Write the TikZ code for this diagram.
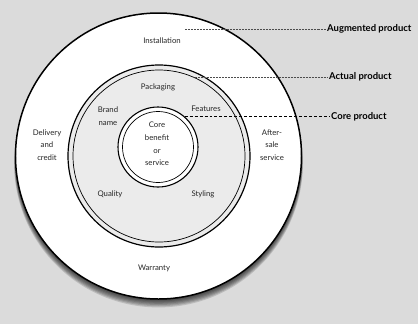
\documentclass[tikz,border=0pt]{standalone}
\usepackage{fontspec}
\setmainfont{Lato}
\usetikzlibrary{positioning}

\begin{document}
\begin{tikzpicture}[x=1bp, y=-1bp,
  ring/.style={circle, draw, inner sep=0pt},
  lbl/.style={font=\fontsize{7.8}{12.7}\selectfont, align=center, inner sep=1pt, text=black!85},
  level/.style={font=\bfseries\fontsize{9.5}{11}\selectfont, anchor=west, inner sep=1pt},
  leader/.style={densely dotted, black!70, line width=0.5pt}
]
\useasboundingbox (0,0) rectangle (418,324);
\fill[gray!28] (0,0) rectangle (418,324);

\foreach \d in {1,...,7}
  \fill[black, opacity=0.14] (158.5,156+\d) circle[radius=143bp+\d*0.2bp];

\node[ring, fill=white, line width=1.5pt, minimum size=286bp] (augmented) at (158.5,156) {};
\node[ring, fill=gray!16, line width=1.2pt, minimum size=182bp] (actual) at (159,156) {};
\node[ring, line width=0.7pt, minimum size=172bp] (actualIn) at (actual.center) {};
\node[ring, fill=white, line width=1.1pt, minimum size=80bp] (core) at (158,147) {};
\node[ring, line width=0.7pt, minimum size=71bp] (coreIn) at (core.center) {};

\node[lbl] (install) at (162,41) {Installation};
\node[lbl] (packaging) at (158,87) {Packaging};
\node[lbl] (brand) at (108,116) {Brand\\name};
\node[lbl] (features) at (206,109) {Features};
\node[lbl] (delivery) at (47,145) {Delivery\\and\\credit};
\node[lbl] (aftersale) at (272,145) {After-\\sale\\service};
\node[lbl] (benefit) at (157,144) {Core\\benefit\\or\\service};
\node[lbl] (quality) at (110,194) {Quality};
\node[lbl] (styling) at (203,194) {Styling};
\node[lbl] (warranty) at (154,268) {Warranty};

\node[level] (augLbl) at (326,29) {Augmented product};
\node[level] (actLbl) at (328,77) {Actual product};
\node[level] (coreLbl) at (330,117) {Core product};

\coordinate (augStart) at (185,29);
\coordinate (actStart) at (195,77);
\draw[leader] (augStart) -- (augLbl.west);
\draw[leader] (actStart) -- (actLbl.west);
\draw[densely dashed, black, line width=0.6pt] (core.49) -- (core.49 -| coreLbl.west);
\end{tikzpicture}
\end{document}
